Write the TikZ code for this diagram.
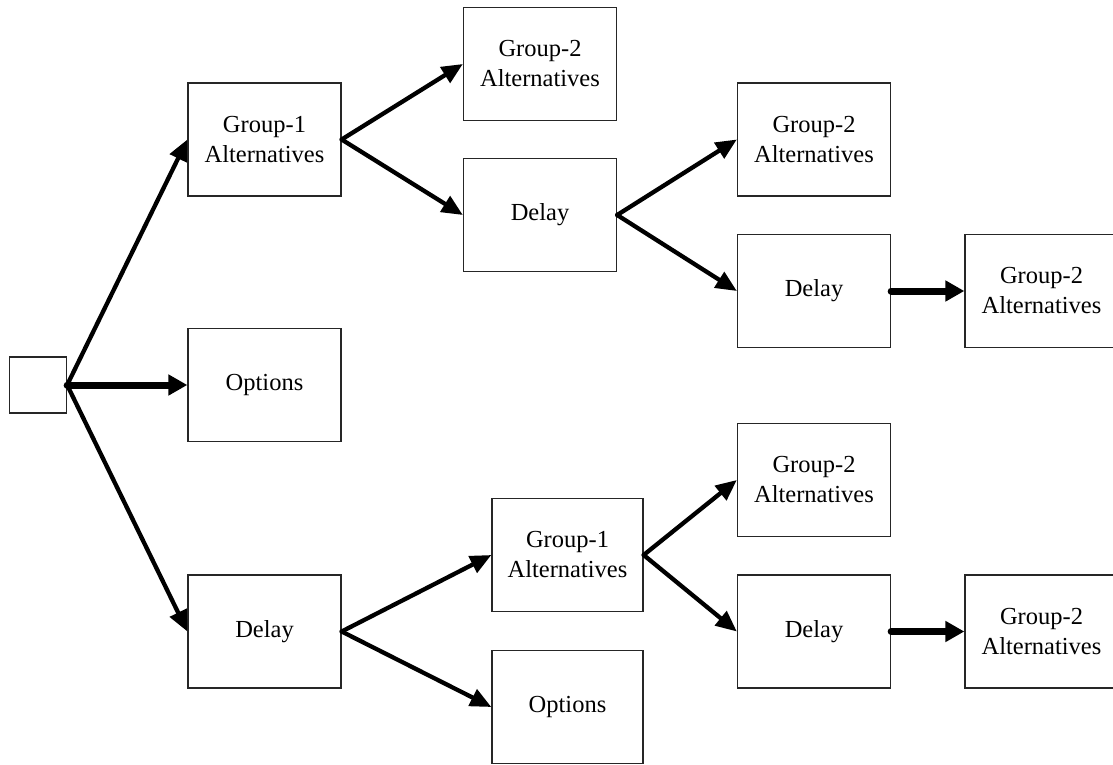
\documentclass[tikz,border=0pt]{standalone}
\usepackage{fontspec}
\setmainfont{Liberation Serif}
\usetikzlibrary{arrows.meta}
\begin{document}
\begin{tikzpicture}[x=1pt,y=-1pt,
  stage/.style={draw=black!85,line width=1.3pt,minimum width=153pt,minimum height=113pt,
    inner sep=0pt,align=center,font=\fontsize{24.5}{30}\selectfont},
  rootbox/.style={draw=black!85,line width=1.3pt,minimum width=57pt,minimum height=56pt,inner sep=0pt},
  branch/.style={line width=4.3pt,line cap=round,-{Triangle[length=21pt,width=18pt]}},
  straight/.style={line width=7pt,line cap=round,-{Triangle[length=19pt,width=20pt]}}]
\useasboundingbox (0,0) rectangle (1113,765);
\clip (0,0) rectangle (1113,765);

% first column
\node[rootbox] (root) at (38,385) {};
\node[stage] (g1) at (264.5,139.5) {Group-1\\Alternatives};
\node[stage] (opt1) at (264.5,385) {Options};
\node[stage] (del1) at (264.5,631.5) {Delay};

% upper branch
\node[stage] (g2a) at (540,64) {Group-2\\Alternatives};
\node[stage] (del2) at (540,215) {Delay};
\node[stage] (g2b) at (814,139.5) {Group-2\\Alternatives};
\node[stage] (del3) at (814,291) {Delay};
\node[stage] (g2c) at (1041.5,291) {Group-2\\Alternatives};

% lower branch
\node[stage,minimum width=151pt] (g1b) at (567.5,555) {Group-1\\Alternatives};
\node[stage,minimum width=151pt] (opt2) at (567.5,707) {Options};
\node[stage] (g2d) at (814,480) {Group-2\\Alternatives};
\node[stage] (del4) at (814,631.5) {Delay};
\node[stage] (g2e) at (1041.5,631.5) {Group-2\\Alternatives};

% connectors
\draw[branch] (root.east) -- (g1.west);
\draw[straight] (root.east) -- (opt1.west);
\draw[branch] (root.east) -- (del1.west);

\draw[branch] (g1.east) -- (g2a.west);
\draw[branch] (g1.east) -- (del2.west);
\draw[branch] (del2.east) -- (g2b.west);
\draw[branch] (del2.east) -- (del3.west);
\draw[straight] (del3.east) -- (g2c.west);

\draw[branch] (del1.east) -- (g1b.west);
\draw[branch] (del1.east) -- (opt2.west);
\draw[branch] (g1b.east) -- (g2d.west);
\draw[branch] (g1b.east) -- (del4.west);
\draw[straight] (del4.east) -- (g2e.west);
\end{tikzpicture}
\end{document}
